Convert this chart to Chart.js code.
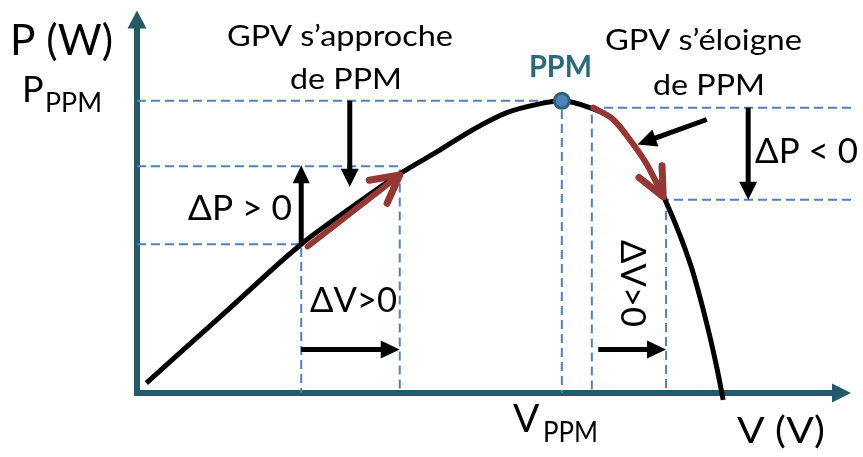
<!DOCTYPE html>
<html>
<head>
<meta charset="utf-8">
<title>P-V MPPT</title>
<script src="https://cdn.jsdelivr.net/npm/chart.js@4.4.0/dist/chart.umd.min.js"></script>
<style>
    html, body { margin: 0; padding: 0; background: #ffffff; }
    #wrap { width: 863px; height: 457px; }
</style>
</head>
<body>
<div id="wrap"><canvas id="pvChart" width="863" height="457"></canvas></div>
<script>
// P-V curve of the PV generator (arbitrary units, 0..100 on both axes)
const curveV = [1.3, 12.3, 23.0, 29.8, 36.8, 42.4, 47.1, 51.8, 56.4, 59.5, 63.4, 66.7, 69.0, 71.4, 73.9, 77.5, 79.8, 81.2, 82.1];
const curveP = [2.6, 21.0, 38.9, 48.2, 57.3, 63.5, 68.9, 73.3, 75.6, 76.4, 74.6, 71.5, 66.3, 59.8, 50.8, 33.7, 18.1, 6.7, -1.8];

// maximum power point
const vPPM = 59.5;
const pPPM = 76.4;

// operating points before / after the step (left side and right side of PPM)
const vLeft = [23.0, 36.8];
const pLeft = [38.9, 59.3];
const vRight = [63.7, 74.1];
const pRight = [74.6, 50.5];

// red arrows following the curve
const redLeftV = [23.9, 36.8];
const redLeftP = [38.3, 57.0];
const redRightV = [63.9, 66.7, 69.0, 71.4, 73.7];
const redRightP = [74.6, 71.5, 66.3, 59.8, 51.3];

const axisColor = '#225a69';
const dashColor = '#4f81bd';
const redColor = '#953735';
const fontFamily = 'Lato, "Noto Sans", sans-serif';

function zip(xs, ys) {
    return xs.map(function (x, i) { return { x: x, y: ys[i] }; });
}

// dashed guide: from an axis to the point, then down to the V axis
function guide(fromV, v, p) {
    return [{ x: fromV, y: p }, { x: v, y: p }, { x: v, y: 0 }];
}

function dashed(data) {
    return {
        data: data,
        showLine: true,
        borderColor: dashColor,
        borderWidth: 2,
        borderDash: [9, 5],
        pointRadius: 0,
        order: 4
    };
}

// filled black arrow
function arrow(ctx, x1, y1, x2, y2, w, headLen, headHalf) {
    const dx = x2 - x1, dy = y2 - y1;
    const len = Math.hypot(dx, dy);
    const ux = dx / len, uy = dy / len;
    const bx = x2 - ux * headLen, by = y2 - uy * headLen;
    ctx.lineWidth = w;
    ctx.beginPath();
    ctx.moveTo(x1, y1);
    ctx.lineTo(bx + ux, by + uy);
    ctx.stroke();
    ctx.beginPath();
    ctx.moveTo(x2, y2);
    ctx.lineTo(bx - uy * headHalf, by + ux * headHalf);
    ctx.lineTo(bx + uy * headHalf, by - ux * headHalf);
    ctx.closePath();
    ctx.fill();
}

// open arrow head for the red paths
function chevron(ctx, x, y, ux, uy, len, ang, w) {
    const c = Math.cos(ang), s = Math.sin(ang);
    const bx = -ux, by = -uy;
    ctx.lineWidth = w;
    ctx.lineCap = 'round';
    ctx.lineJoin = 'round';
    ctx.beginPath();
    ctx.moveTo(x + (bx * c - by * s) * len, y + (bx * s + by * c) * len);
    ctx.lineTo(x, y);
    ctx.lineTo(x + (bx * c + by * s) * len, y + (-bx * s + by * c) * len);
    ctx.stroke();
}

// text stretched to the width it has in the picture
function label(ctx, text, left, base, size, width, opts) {
    opts = opts || {};
    ctx.save();
    ctx.font = (opts.bold ? 'bold ' : '') + size + 'px ' + fontFamily;
    ctx.fillStyle = opts.color || '#000000';
    ctx.textAlign = 'left';
    ctx.textBaseline = 'alphabetic';
    const w = ctx.measureText(text).width;
    ctx.translate(left, base);
    if (opts.rotate) ctx.rotate(opts.rotate);
    if (width) ctx.scale(width / w, 1);
    ctx.fillText(text, 0, 0);
    ctx.restore();
}

const sketchPlugin = {
    id: 'sketch',
    beforeDatasetsDraw: function (chart) {
        const ctx = chart.ctx, a = chart.chartArea;
        ctx.save();
        ctx.strokeStyle = axisColor;
        ctx.fillStyle = axisColor;
        // P axis
        arrow(ctx, a.left, a.bottom + 3, a.left, a.top, 6, 18, 9.5);
        // V axis
        arrow(ctx, a.left - 3, a.bottom, a.right, a.bottom, 6, 19, 9.5);
        ctx.restore();
    },
    afterDatasetsDraw: function (chart) {
        const ctx = chart.ctx;
        const xs = chart.scales.x, ys = chart.scales.y;
        const px = function (v) { return xs.getPixelForValue(v); };
        const py = function (p) { return ys.getPixelForValue(p); };

        ctx.save();
        // red arrow heads at the end of the red paths
        ctx.strokeStyle = redColor;
        [[redLeftV, redLeftP, 0.49], [redRightV, redRightP, 0.43]].forEach(function (r) {
            const n = r[0].length;
            const x2 = px(r[0][n - 1]), y2 = py(r[1][n - 1]);
            const x1 = px(r[0][n - 2]), y1 = py(r[1][n - 2]);
            const d = Math.hypot(x2 - x1, y2 - y1);
            chevron(ctx, x2, y2, (x2 - x1) / d, (y2 - y1) / d, 31, r[2], 7);
        });

        // black arrows
        ctx.strokeStyle = '#000000';
        ctx.fillStyle = '#000000';
        ctx.lineCap = 'butt';
        const yStep = 11.4;
        arrow(ctx, px(vLeft[0]), py(pLeft[0]), px(vLeft[0]), py(pLeft[1]) - 1, 5, 18, 8.5);      // dP > 0
        arrow(ctx, px(29.8), py(pPPM), px(29.8), py(53.9), 5, 18, 9);                            // from "de PPM"
        arrow(ctx, px(vLeft[0]), py(yStep), px(vLeft[1]), py(yStep), 5, 19, 9);                  // dV > 0 (left)
        arrow(ctx, px(64.6), py(yStep), px(vRight[1]), py(yStep), 5, 19, 9);                    // dV > 0 (right)
        arrow(ctx, px(79.8), py(71.5), px(70.1), py(65.0), 5, 19, 9);                            // from "de PPM" (right)
        arrow(ctx, px(85.6), py(pRight[0]), px(85.6), py(pRight[1]), 5, 18, 9);                  // dP < 0
        ctx.restore();

        // texts
        label(ctx, 'P (W)', 10, 55, 43, 103);
        label(ctx, 'P', 22, 102, 36, 0);
        label(ctx, 'PPM', 45, 112, 26, 57);
        label(ctx, 'GPV s\u2019approche', 227, 46, 28, 226);
        label(ctx, 'de PPM', 290, 89, 28, 112);
        label(ctx, 'PPM', 529, 77, 30, 63, { bold: true, color: '#2b6a7a' });
        label(ctx, 'GPV s\u2019\u00e9loigne', 605, 50, 28, 197);
        label(ctx, 'de PPM', 653, 95, 28, 112);
        label(ctx, '\u0394P < 0', 755, 163, 35, 103);
        label(ctx, '\u0394P > 0', 188, 220, 35, 104);
        label(ctx, '\u0394V>0', 310, 312, 35, 87);
        label(ctx, '\u0394V>0', 621, 240, 35, 87, { rotate: Math.PI / 2 });
        label(ctx, 'V', 513, 432, 39, 0);
        label(ctx, 'PPM', 543, 442, 29, 55);
        label(ctx, 'V (V)', 737, 443, 36, 88);
    }
};

const pvChart = new Chart(document.getElementById('pvChart'), {
    type: 'scatter',
    data: {
        datasets: [
            dashed(guide(0, vPPM, pPPM)),
            dashed(guide(0, vLeft[0], pLeft[0])),
            dashed(guide(0, vLeft[1], pLeft[1])),
            dashed(guide(100, vRight[0], pRight[0])),
            dashed(guide(100, vRight[1], pRight[1])),
            {
                // P-V curve
                data: zip(curveV, curveP),
                showLine: true,
                borderColor: '#000000',
                borderWidth: 5,
                cubicInterpolationMode: 'monotone',
                pointRadius: 0,
                clip: false,
                order: 3
            },
            {
                data: zip(redLeftV, redLeftP),
                showLine: true,
                borderColor: redColor,
                borderWidth: 6,
                borderCapStyle: 'round',
                pointRadius: 0,
                clip: false,
                order: 2
            },
            {
                data: zip(redRightV, redRightP),
                showLine: true,
                borderColor: redColor,
                borderWidth: 6,
                borderCapStyle: 'round',
                cubicInterpolationMode: 'monotone',
                pointRadius: 0,
                clip: false,
                order: 2
            },
            {
                // PPM marker
                data: [{ x: vPPM, y: pPPM }],
                showLine: false,
                pointRadius: 7.5,
                pointBackgroundColor: '#4f81bd',
                pointBorderColor: '#2b6272',
                pointBorderWidth: 3,
                clip: false,
                order: 1
            }
        ]
    },
    options: {
        responsive: false,
        devicePixelRatio: 1,
        animation: false,
        events: [],
        layout: { padding: { left: 137, right: 12, top: 7, bottom: 64 } },
        scales: {
            x: { type: 'linear', min: 0, max: 100, display: false },
            y: { type: 'linear', min: 0, max: 100, display: false }
        },
        plugins: {
            legend: { display: false },
            tooltip: { enabled: false }
        }
    },
    plugins: [sketchPlugin]
});
</script>
</body>
</html>
